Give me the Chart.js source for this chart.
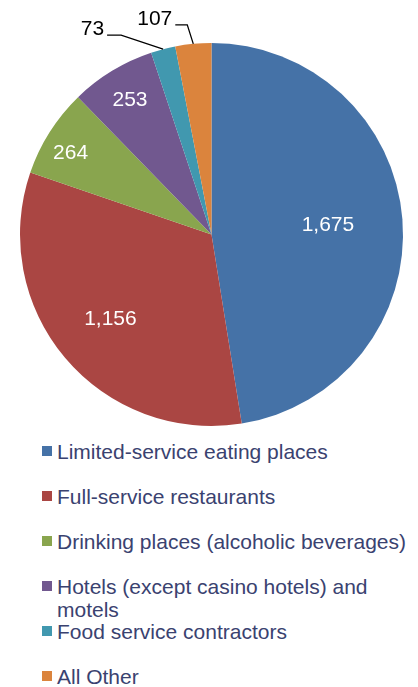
<!DOCTYPE html>
<html lang="en">
<head>
<meta charset="UTF-8">
<title>Food service establishments</title>
<script src="https://cdn.jsdelivr.net/npm/chart.js"></script>
<style>
    body { background: #fff; margin: 0; padding: 0; font-family: "Liberation Sans", Arial, sans-serif; }
    #wrap { position: relative; width: 418px; height: 687px; overflow: hidden; }
    #pie { display: block; }
    #legend { list-style: none; margin: 0; padding: 0 0 0 42px; position: absolute; top: 440px; left: 0; }
    #legend li { height: 45px; display: flex; align-items: flex-start; color: #3a4270; font-size: 21px; line-height: 23px; }
    #legend .box { width: 10px; height: 10px; margin: 6px 5px 0 0; flex: none; }
    #legend .txt { width: 360px; }
</style>
</head>
<body>
<div id="wrap">
    <canvas id="pie" width="418" height="430"></canvas>
    <ul id="legend"></ul>
</div>
<script>
const categories = [
    'Limited-service eating places',
    'Full-service restaurants',
    'Drinking places (alcoholic beverages)',
    'Hotels (except casino hotels) and motels',
    'Food service contractors',
    'All Other'
];
const values = [1675, 1156, 264, 253, 73, 107];
const valueLabels = ['1,675', '1,156', '264', '253', '73', '107'];
const colors = ['#4572a7', '#aa4643', '#89a54e', '#71588f', '#4198af', '#db843d'];

// where each value label goes: inside at a fraction of the radius (a = angle nudge in degrees),
// or outside with a leader line
const labelPlace = [
    { r: 0.61, a: 0 },
    { r: 0.69, a: 0 },
    { r: 0.85, a: -2.3 },
    { r: 0.82, a: 0 },
    { elbow: [-42, -14], tail: 14 },
    { elbow: [-6, -19], tail: 12 }
];

const sliceLabels = {
    id: 'sliceLabels',
    afterDatasetsDraw(chart) {
        const ctx = chart.ctx;
        const arcs = chart.getDatasetMeta(0).data;
        ctx.save();
        ctx.font = '21px "Liberation Sans", Arial, sans-serif';
        ctx.textBaseline = 'middle';
        arcs.forEach((arc, i) => {
            const p = labelPlace[i];
            const mid = (arc.startAngle + arc.endAngle) / 2;
            if (p.r) {
                const rr = arc.outerRadius * p.r;
                const ang = mid + p.a * Math.PI / 180;
                ctx.fillStyle = '#fff';
                ctx.textAlign = 'center';
                ctx.fillText(valueLabels[i], arc.x + Math.cos(ang) * rr, arc.y + Math.sin(ang) * rr);
            } else {
                const ex = arc.x + Math.cos(mid) * arc.outerRadius;
                const ey = arc.y + Math.sin(mid) * arc.outerRadius;
                const bx = ex + p.elbow[0], by = ey + p.elbow[1];
                ctx.strokeStyle = '#000';
                ctx.lineWidth = 1.3;
                ctx.beginPath();
                ctx.moveTo(ex, ey);
                ctx.lineTo(bx, by);
                ctx.lineTo(bx - p.tail, by);
                ctx.stroke();
                ctx.fillStyle = '#000';
                ctx.textAlign = 'right';
                ctx.fillText(valueLabels[i], bx - p.tail - 3, by - 6);
            }
        });
        ctx.restore();
    }
};

new Chart(document.getElementById('pie').getContext('2d'), {
    type: 'pie',
    data: {
        labels: categories,
        datasets: [{ data: values, backgroundColor: colors, borderWidth: 0 }]
    },
    options: {
        responsive: false,
        animation: false,
        layout: { padding: { left: 20, right: 15, top: 43, bottom: 4 } },
        plugins: { legend: { display: false }, tooltip: { enabled: false } }
    },
    plugins: [sliceLabels]
});

// legend below the pie
const legend = document.getElementById('legend');
categories.forEach((c, i) => {
    const li = document.createElement('li');
    li.innerHTML = '<span class="box" style="background:' + colors[i] + '"></span><span class="txt">' + c + '</span>';
    legend.appendChild(li);
});
</script>
</body>
</html>
